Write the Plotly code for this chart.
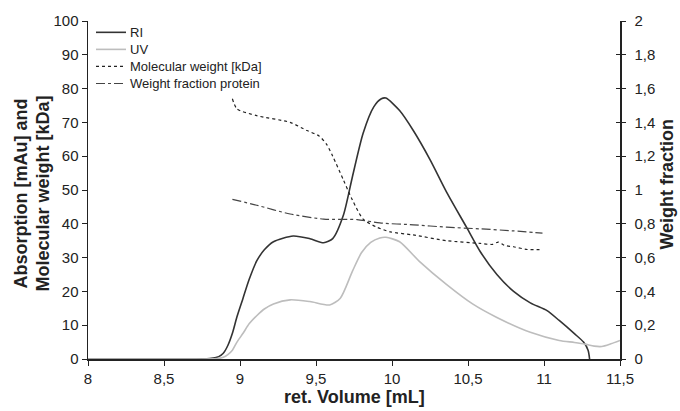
import plotly.graph_objects as go

# ---------------- data ----------------
ri_x = [8.0, 8.5, 8.8, 8.86, 8.89, 8.92, 8.95, 8.98, 9.02, 9.06, 9.11, 9.16, 9.22, 9.35, 9.46,
        9.55, 9.61, 9.68, 9.74, 9.81, 9.88, 9.93, 9.96, 10.05, 10.14, 10.25, 10.36, 10.49,
        10.58, 10.69, 10.80, 10.91, 11.02, 11.10, 11.20, 11.26, 11.29, 11.30]
ri_y = [0, 0, 0.1, 0.7, 1.7, 4.0, 7.6, 12.5, 18, 23.5, 29, 32.3, 34.7, 36.4, 35.6,
        34.4, 35.6, 42.5, 54, 66.8, 74.6, 77, 77.2, 73.5, 67.6, 59, 49.3, 39,
        31.8, 25, 20, 16.6, 14.3, 11.4, 7.5, 5, 2.6, 0]

uv_x = [8.0, 8.5, 8.85, 8.89, 8.92, 8.95, 8.98, 9.02, 9.06, 9.11, 9.16, 9.22, 9.33, 9.46,
        9.59, 9.66, 9.74, 9.80, 9.86, 9.92, 9.96, 10.05, 10.18, 10.36, 10.53, 10.69, 10.91,
        11.10, 11.20, 11.27, 11.33, 11.38, 11.44, 11.50]
uv_y = [0, 0, 0.1, 0.5, 1.3, 2.6, 5.0, 7.6, 10.4, 12.8, 14.8, 16.3, 17.5, 17,
        16, 18, 26, 31.5, 34.5, 35.8, 36, 34.7, 28.9, 22, 16.3, 12.3, 7.9,
        5.5, 4.9, 4.4, 3.8, 3.7, 4.5, 5.5]

mw_x = [8.95, 8.98, 9.11, 9.33, 9.44, 9.52, 9.57, 9.61, 9.68, 9.74, 9.81, 9.90, 9.99, 10.14,
        10.36, 10.58, 10.66, 10.70, 10.74, 10.80, 10.89, 10.99]
mw_y = [77, 74, 72, 70, 67.6, 66, 63.5, 60, 53, 47, 41.4, 39, 37.6, 36.7,
        35, 34.2, 33.9, 34.6, 33.6, 33.2, 32.4, 32.4]

wf_x = [8.95, 9.11, 9.33, 9.55, 9.77, 9.92, 10.14, 10.36, 10.58, 10.80, 10.99]
wf_y = [0.945, 0.91, 0.858, 0.828, 0.825, 0.805, 0.794, 0.78, 0.77, 0.758, 0.745]

series_names = ["RI", "UV", "Molecular weight [kDa]", "Weight fraction protein"]

x_ticks = [8, 8.5, 9, 9.5, 10, 10.5, 11, 11.5]
x_tick_text = ["8", "8,5", "9", "9,5", "10", "10,5", "11", "11,5"]
y_ticks = [0, 10, 20, 30, 40, 50, 60, 70, 80, 90, 100]
y2_ticks = [0, 0.2, 0.4, 0.6, 0.8, 1, 1.2, 1.4, 1.6, 1.8, 2]
y2_tick_text = ["0", "0,2", "0,4", "0,6", "0,8", "1", "1,2", "1,4", "1,6", "1,8", "2"]

# ---------------- styles ----------------
FONT = "Arial, Liberation Sans, sans-serif"
AX = "#222222"
styles = [
    dict(color="#333333", width=1.6, dash="solid"),
    dict(color="#bdbdbd", width=1.6, dash="solid"),
    dict(color="#222222", width=1.2, dash="dot"),
    dict(color="#444444", width=1.2, dash="dashdot"),
]

L, R, T, B, W, H = 88, 60, 16, 52, 680, 411
PW, PH = W - L - R, H - T - B


def px_x(p):
    return (p - L) / PW


def px_y(p):
    return (H - B - p) / PH


fig = go.Figure()
data = [(ri_x, ri_y, "y"), (uv_x, uv_y, "y"), (mw_x, mw_y, "y"), (wf_x, wf_y, "y2")]
for (xs, ys, ax), name, st in zip(data, series_names, styles):
    fig.add_trace(go.Scatter(x=xs, y=ys, name=name, mode="lines", yaxis=ax, showlegend=False,
                             line=dict(color=st["color"], width=st["width"], dash=st["dash"],
                                       shape="spline", smoothing=0.7)))
# helper invisible trace for inner half of right-axis cross ticks
fig.add_trace(go.Scatter(x=[8], y=[0], yaxis="y3", mode="markers", marker=dict(opacity=0),
                         showlegend=False, hoverinfo="skip"))

fig.update_layout(
    width=W, height=H,
    margin=dict(l=L, r=R, t=T, b=B),
    paper_bgcolor="white", plot_bgcolor="white",
    font=dict(family=FONT, size=15, color="#222222"),
    showlegend=False,
    xaxis=dict(range=[8, 11.5], tickmode="array", tickvals=x_ticks, ticktext=x_tick_text,
               showgrid=False, zeroline=False, showline=True, linecolor=AX, linewidth=1.5,
               ticks="outside", ticklen=5, tickwidth=1, tickcolor=AX,
               tickfont=dict(size=15, color="#222222")),
    yaxis=dict(range=[0, 100], tickmode="array", tickvals=y_ticks,
               showgrid=False, zeroline=False, showline=True, linecolor=AX, linewidth=1.5,
               ticks="outside", ticklen=5, tickwidth=1, tickcolor=AX,
               tickfont=dict(size=15, color="#222222")),
    yaxis2=dict(range=[0, 2], overlaying="y", side="right", anchor="x",
                tickmode="array", tickvals=y2_ticks, ticktext=y2_tick_text,
                showgrid=False, zeroline=False, showline=True, linecolor=AX, linewidth=1.5,
                ticks="outside", ticklen=4, tickwidth=1, tickcolor=AX,
                ticklabelstandoff=6,
                tickfont=dict(size=15, color="#222222")),
    yaxis3=dict(range=[0, 2], overlaying="y", side="right", anchor="x",
                tickmode="array", tickvals=y2_ticks, showticklabels=False,
                showgrid=False, zeroline=False, showline=False,
                ticks="inside", ticklen=4, tickwidth=1, tickcolor=AX),
)

# manual legend (compact row spacing like the reference)
for i, (name, st) in enumerate(zip(series_names, styles)):
    ry = px_y(27.5 + 17.3 * i)
    fig.add_shape(type="line", xref="paper", yref="paper",
                  x0=px_x(96), x1=px_x(126), y0=ry, y1=ry,
                  line=dict(color=st["color"], width=st["width"], dash=st["dash"]))
    fig.add_annotation(text=name, xref="paper", yref="paper", x=px_x(128), y=ry,
                       xanchor="left", yanchor="middle", showarrow=False,
                       font=dict(family=FONT, size=13, color="#222222"))

title_font = dict(family=FONT, size=18, color="#222222")
fig.add_annotation(text="<b>Absorption [mAu] and</b>", xref="paper", yref="paper",
                   x=px_x(21), y=px_y(191), xanchor="center", yanchor="middle",
                   textangle=-90, showarrow=False, font=title_font)
fig.add_annotation(text="<b>Molecular weight [kDa]</b>", xref="paper", yref="paper",
                   x=px_x(43), y=px_y(191), xanchor="center", yanchor="middle",
                   textangle=-90, showarrow=False, font=title_font)
fig.add_annotation(text="<b>Weight fraction</b>", xref="paper", yref="paper",
                   x=px_x(667), y=px_y(182), xanchor="center", yanchor="middle",
                   textangle=-90, showarrow=False, font=title_font)
fig.add_annotation(text="<b>ret. Volume [mL]</b>", xref="paper", yref="paper",
                   x=0.5, y=px_y(410), xanchor="center", yanchor="bottom",
                   showarrow=False, font=title_font)

fig.write_html("out.html",
               config={"displayModeBar": False, "staticPlot": True},
               post_script="document.body.style.margin='0';document.body.style.overflow='hidden';")
